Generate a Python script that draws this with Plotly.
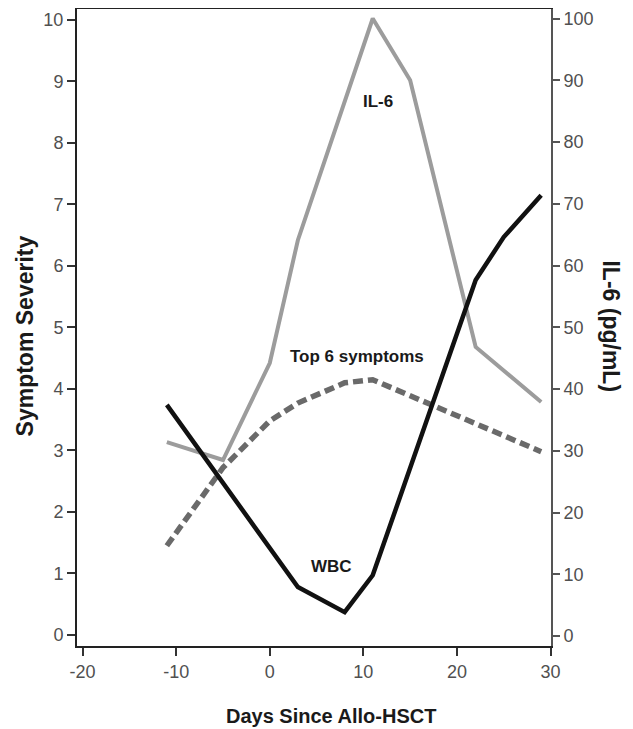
import plotly.graph_objects as go

# ---- data ----
il6_days = [-11, -5, 0, 3, 11, 15, 22, 29]
il6_pgml = [31.4, 28.5, 44.2, 64.1, 100.0, 90.0, 46.8, 37.9]

symptom_days = [-11, -5, 0, 3, 8, 11, 29]
top6_symptoms = [1.45, 2.72, 3.48, 3.77, 4.10, 4.15, 2.98]

wbc_days = [-11, 3, 8, 11, 22, 25, 29]
wbc_values = [3.74, 0.78, 0.37, 0.97, 5.77, 6.47, 7.15]

x_ticks = [-20, -10, 0, 10, 20, 30]
x_tick_labels = ["-20", "-10", "0", "10", "20", "30"]
left_ticks = list(range(0, 11))
right_ticks = list(range(0, 101, 10))

FONT = "Liberation Sans, Arial, sans-serif"
TICK_COLOR = "#505050"

fig = go.Figure()

# IL-6 on the (right-hand) primary y axis so the left-axis traces draw above it
fig.add_trace(go.Scatter(
    x=il6_days, y=il6_pgml, mode="lines", name="IL-6",
    line=dict(color="#9c9c9c", width=4), yaxis="y", showlegend=False))

fig.add_trace(go.Scatter(
    x=symptom_days, y=top6_symptoms, mode="lines", name="Top 6 symptoms",
    line=dict(color="#6a6a6a", width=5.5, dash="10px,5px"), yaxis="y2",
    showlegend=False))

fig.add_trace(go.Scatter(
    x=wbc_days, y=wbc_values, mode="lines", name="WBC",
    line=dict(color="#111111", width=4.5), yaxis="y2", showlegend=False))

fig.update_layout(
    width=625, height=721, autosize=False,
    margin=dict(l=69, r=82, t=1, b=83),
    paper_bgcolor="white", plot_bgcolor="white",
    font=dict(family=FONT),
    xaxis=dict(
        range=[-20.6, 30.05], tickvals=x_ticks, ticktext=x_tick_labels,
        showgrid=False, zeroline=False, automargin=False,
        showline=True, linecolor="#222222", linewidth=2, mirror=True,
        ticks="outside", ticklen=8, tickwidth=1.5, tickcolor="#333333",
        tickfont=dict(size=18, color=TICK_COLOR, family=FONT),
        anchor="y2",
    ),
    yaxis=dict(
        side="right", range=[-1.62, 101.54], tickvals=right_ticks,
        showgrid=False, zeroline=False, automargin=False,
        showline=True, linecolor="#555555", linewidth=2,
        ticks="outside", ticklen=7, tickwidth=1.5, tickcolor="#555555",
        tickfont=dict(size=18, color=TICK_COLOR, family=FONT),
    ),
    yaxis2=dict(
        side="left", overlaying="y", range=[-0.18, 10.178], tickvals=left_ticks,
        showgrid=False, zeroline=False, automargin=False,
        showline=True, linecolor="#222222", linewidth=2,
        ticks="outside", ticklen=8, tickwidth=1.5, tickcolor="#333333",
        tickfont=dict(size=18, color=TICK_COLOR, family=FONT),
    ),
)

ann_font = dict(family=FONT, size=17, color="#1a1a1a")
labels = [
    ("<b>IL-6</b>", 11.6, 8.67),
    ("<b>Top 6 symptoms</b>", 9.34, 4.52),
    ("<b>WBC</b>", 6.55, 1.11),
]
for text, x, y in labels:
    fig.add_annotation(text=text, x=x, y=y, xref="x", yref="y2",
                       xanchor="center", yanchor="middle",
                       showarrow=False, font=ann_font)

title_font = dict(family=FONT, size=20, color="#1a1a1a")
fig.add_annotation(text="<b>Days Since Allo-HSCT</b>", xref="paper", yref="paper",
                   x=0.536, y=-0.1097, xanchor="center", yanchor="middle",
                   showarrow=False, font=title_font)
fig.add_annotation(text="<b>Symptom Severity</b>", xref="paper", yref="paper",
                   x=-0.1097, y=0.486, textangle=-90, xanchor="center",
                   yanchor="middle", showarrow=False,
                   font=dict(family=FONT, size=23, color="#1a1a1a"))
fig.add_annotation(text="<b>IL-6 (pg/mL)</b>", xref="paper", yref="paper",
                   x=1.1266, y=0.5016, textangle=90, xanchor="center",
                   yanchor="middle", showarrow=False,
                   font=dict(family=FONT, size=23, color="#1a1a1a"))

fig.write_html("out.html")
